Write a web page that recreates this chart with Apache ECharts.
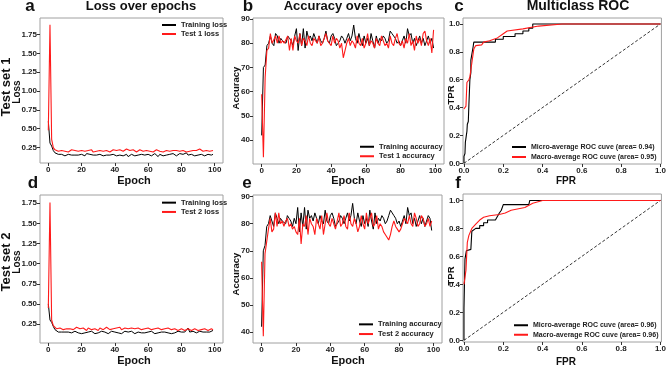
<!DOCTYPE html>
<html><head><meta charset="utf-8">
<script src="https://cdn.jsdelivr.net/npm/echarts@6/dist/echarts.min.js"></script>
<style>html,body{margin:0;padding:0;background:#fff}#c{width:669px;height:368px}</style>
</head><body><div id="c"></div>
<script>
const FONT = '"Liberation Sans", Arial, sans-serif';
const epochs = [...Array(100).keys()];
const epochTicks = [0,20,40,60,80,100];
const lossTicks = [0.25,0.5,0.75,1.0,1.25,1.5,1.75];
const accTicks = [40,50,60,70,80,90];
const rocTicks = [0,0.2,0.4,0.6,0.8,1.0];

const trainLoss1 = [
0.60,0.31,0.27,0.21,0.18,0.16,0.16,0.15,0.16,0.15,
0.14,0.15,0.16,0.14,0.15,0.16,0.15,0.17,0.15,0.14,
0.16,0.15,0.14,0.17,0.15,0.16,0.14,0.15,0.16,0.15,
0.14,0.16,0.15,0.14,0.16,0.15,0.17,0.15,0.14,0.16,
0.15,0.14,0.16,0.15,0.17,0.14,0.15,0.16,0.13,0.15,
0.16,0.15,0.14,0.16,0.15,0.14,0.16,0.17,0.15,0.14,
0.16,0.15,0.14,0.15,0.17,0.15,0.13,0.16,0.15,0.14,
0.16,0.15,0.14,0.16,0.15,0.17,0.15,0.14,0.16,0.17,
0.18,0.16,0.17,0.18,0.15,0.14,0.16,0.15,0.14,0.16,
0.15,0.14,0.16,0.15,0.14,0.15,0.16,0.14,0.15,0.16];
const testLoss1 = [
0.48,1.88,0.36,0.25,0.22,0.21,0.20,0.22,0.21,0.19,
0.20,0.21,0.19,0.20,0.22,0.20,0.21,0.23,0.20,0.19,
0.21,0.22,0.20,0.19,0.21,0.20,0.22,0.19,0.21,0.20,
0.22,0.21,0.19,0.20,0.22,0.21,0.20,0.19,0.21,0.22,
0.20,0.21,0.19,0.22,0.21,0.20,0.22,0.23,0.24,0.21,
0.20,0.22,0.21,0.19,0.20,0.22,0.21,0.20,0.19,0.21,
0.22,0.20,0.21,0.19,0.20,0.22,0.21,0.20,0.22,0.19,
0.20,0.21,0.19,0.20,0.22,0.21,0.20,0.21,0.19,0.20,
0.19,0.21,0.20,0.19,0.21,0.20,0.22,0.21,0.20,0.21,
0.22,0.23,0.21,0.20,0.22,0.21,0.19,0.20,0.18,0.21];
const trainLoss2 = [
0.50,0.30,0.27,0.22,0.18,0.16,0.15,0.16,0.15,0.14,
0.15,0.14,0.15,0.16,0.14,0.15,0.16,0.15,0.14,0.16,
0.13,0.15,0.14,0.16,0.15,0.14,0.16,0.15,0.13,0.15,
0.14,0.15,0.16,0.14,0.15,0.14,0.13,0.15,0.16,0.14,
0.15,0.16,0.14,0.15,0.13,0.15,0.16,0.14,0.15,0.14,
0.16,0.15,0.13,0.12,0.15,0.16,0.14,0.15,0.14,0.16,
0.15,0.14,0.16,0.15,0.13,0.15,0.14,0.16,0.15,0.14,
0.15,0.16,0.14,0.15,0.13,0.12,0.14,0.15,0.16,0.14,
0.15,0.16,0.15,0.17,0.20,0.15,0.14,0.16,0.15,0.14,
0.15,0.16,0.14,0.15,0.16,0.15,0.14,0.15,0.14,0.17];
const testLoss2 = [
0.45,1.76,0.30,0.23,0.21,0.19,0.18,0.20,0.19,0.18,
0.20,0.19,0.17,0.19,0.20,0.18,0.19,0.21,0.22,0.19,
0.18,0.20,0.19,0.17,0.20,0.19,0.18,0.20,0.19,0.18,
0.17,0.20,0.19,0.18,0.20,0.21,0.19,0.18,0.20,0.19,
0.18,0.20,0.19,0.21,0.18,0.19,0.20,0.21,0.19,0.18,
0.20,0.21,0.19,0.18,0.20,0.19,0.18,0.20,0.19,0.18,
0.20,0.19,0.18,0.20,0.19,0.18,0.20,0.19,0.18,0.17,
0.19,0.18,0.20,0.19,0.18,0.20,0.19,0.18,0.17,0.18,
0.19,0.18,0.17,0.18,0.19,0.18,0.17,0.18,0.19,0.18,
0.17,0.19,0.18,0.17,0.19,0.18,0.17,0.18,0.19,0.18];

const trainAcc1 = [
42,70,71,79,80,83,80,79,84,83,
80,82,81,81,80,83,82,81,79,83,
86,77,84,79,86,78,85,82,83,81,
84,82,80,83,81,80,82,85,81,80,
83,84,82,79,80,81,83,82,80,82,
84,81,83,87.5,82,80,84,81,79,83,
80,82,79,84,81,78,83,80,82,81,
83,82,80,81,85,84,83,82,80,81,
79,81,83,80,86,83,84,80,82,79,
81,83,80,82,79,81,83,80,82,78];
const testAcc1 = [
59,33,66,77,78,84,80,80,83,80,
83,80,81,80,80,83,77,82,77,83,
81,80,84,79,82,81,79,83,80,79,
82,81,80,83,79,80,82,84,81,80,
79,83,80,82,81,78,80,74,74,80,
82,79,81,80,78,83,80,79,82,78,
80,84,79,81,80,78,82,80,79,83,
81,79,80,78,83,80,79,82,84,80,
79,81,78,82,80,84,79,81,77,83,
80,82,79,84,85,81,79,82,76,85.5];
const trainAcc2 = [
42,70,72,79,80,83,83,79,84,82,
80,82,81,81,80,83,82,81,79,82,
80,86,77,84,79,86,78,85,82,83,
81,84,82,80,83,81,80,85,81,80,
83,84,82,79,80,81,83,82,80,82,
84,81,83,87.5,82,80,84,81,79,83,
80,82,79,85,81,78,84,80,82,81,
83,82,80,81,83,85,84,83,82,80,
81,79,81,83,80,86,83,84,80,82,
79,81,83,80,82,79,81,83,82,77.5];
const testAcc2 = [
66,38.5,69,69.5,78,82,77,78,84,79,
84,80,81,79,81,82,79,80,78,79,
77,76,82,72.5,80,79,83,76,82,80,
79,76,82,80,78,83,76,80,84,80,
79,82,80,78,81,84,79,80,83,79,
78,84,80,79,82,80,77,79,83,80,
78,84,80,82,84,79,80,83,78,80,
79,77,76,75,74,76,79,81,79,78,
77,78,80,82,81,80,83,80,79,84,
82,79,80,83,82,79,80,82,79,81];

const microRoc1 = [[0,0],[0,0.05],[0.005,0.07],[0.007,0.15],[0.012,0.2],[0.015,0.23],[0.017,0.28],[0.022,0.3],[0.025,0.42],[0.03,0.6],[0.035,0.65],[0.035,0.74],[0.045,0.74],[0.047,0.84],[0.05,0.87],[0.16,0.87],[0.16,0.89],[0.2,0.89],[0.2,0.91],[0.26,0.91],[0.26,0.93],[0.3,0.93],[0.3,0.95],[0.33,0.95],[0.33,0.97],[0.35,0.97],[0.35,1.0],[1,1]];
const macroRoc1 = [[0,0.39],[0.01,0.41],[0.015,0.58],[0.025,0.6],[0.03,0.62],[0.04,0.72],[0.05,0.82],[0.06,0.845],[0.09,0.85],[0.1,0.87],[0.13,0.88],[0.17,0.9],[0.2,0.93],[0.22,0.95],[0.3,0.965],[0.38,0.985],[0.5,1.0],[1,1]];
const microRoc2 = [[0,0],[0,0.23],[0.005,0.23],[0.005,0.58],[0.012,0.58],[0.012,0.64],[0.035,0.65],[0.04,0.78],[0.06,0.8],[0.08,0.8],[0.08,0.82],[0.1,0.82],[0.1,0.84],[0.12,0.84],[0.12,0.86],[0.16,0.86],[0.17,0.87],[0.18,0.91],[0.19,0.93],[0.2,0.97],[0.33,0.97],[0.335,1.0],[1,1]];
const macroRoc2 = [[0,0.4],[0.01,0.5],[0.017,0.7],[0.025,0.75],[0.04,0.8],[0.06,0.83],[0.08,0.86],[0.1,0.88],[0.13,0.89],[0.18,0.9],[0.21,0.91],[0.24,0.93],[0.31,0.95],[0.35,0.98],[0.4,1.0],[1,1]];
const chanceLine = [[0,0],[1,1]];

const names = {
  trainLoss:'Training loss', test1Loss:'Test 1 loss', test2Loss:'Test 2 loss',
  trainAcc:'Training accuracy', test1Acc:'Test 1 accuracy', test2Acc:'Test 2 accuracy',
  micro1:'Micro-average ROC cuve (area= 0.94)', macro1:'Macro-average ROC cuve (area= 0.95)',
  micro2:'Micro-average ROC cuve (area= 0.96)', macro2:'Macro-average ROC cuve (area= 0.96)'
};

const grids = [
  {left:40, top:18, width:183, height:145},
  {left:253, top:18, width:191, height:146},
  {left:463, top:18, width:199, height:146},
  {left:40, top:195, width:183, height:148},
  {left:253, top:195, width:189, height:148},
  {left:463, top:194, width:199, height:148}
].map(g => Object.assign(g, {show:true, borderColor:'#a0a0a0', borderWidth:1, backgroundColor:'#fff'}));

function axis(gi, min, max, ticks, fmt) {
  return {
    type:'value', gridIndex:gi, min:min, max:max,
    axisLine:{show:false, onZero:false}, splitLine:{show:false},
    axisTick:{show:true, customValues:ticks, length:3, lineStyle:{color:'#333', width:1}},
    axisLabel:{customValues:ticks, formatter:fmt, fontSize:8, fontWeight:'bold', color:'#222', margin:3, fontFamily:FONT}
  };
}
const fInt = v => String(Math.round(v));
const f2 = v => v.toFixed(2);
const f1 = v => v.toFixed(1);

const xAxes = [
  axis(0,-5,105,epochTicks,fInt), axis(1,-5,105,epochTicks,fInt), axis(2,-0.005,1.005,rocTicks,f1),
  axis(3,-5,105,epochTicks,fInt), axis(4,-5,105,epochTicks,fInt), axis(5,-0.005,1.005,rocTicks,f1)
];
const yAxes = [
  axis(0,0.045,1.97,lossTicks,f2), axis(1,30.2,90.4,accTicks,fInt), axis(2,-0.005,1.043,rocTicks,f1),
  axis(3,0.014,1.853,lossTicks,f2), axis(4,36.0,90.6,accTicks,fInt), axis(5,-0.012,1.046,rocTicks,f1)
];

function line(gi, name, data, color, width, extra) {
  return Object.assign({type:'line', name:name, xAxisIndex:gi, yAxisIndex:gi, data:data, showSymbol:false, symbol:'none',
    lineStyle:{color:color, width:width}, itemStyle:{color:color}, silent:true}, extra || {});
}
const ep = arr => epochs.map(i => [i, arr[i]]);
const RED = '#ff1a1a';

const series = [
  line(0, names.trainLoss, ep(trainLoss1), '#000', 1),
  line(0, names.test1Loss, ep(testLoss1), RED, 1.1),
  line(1, names.trainAcc, ep(trainAcc1), '#000', 1),
  line(1, names.test1Acc, ep(testAcc1), RED, 1.1),
  line(2, 'chance1', chanceLine, '#000', 0.8, {lineStyle:{color:'#000', width:0.8, type:[3,2]}}),
  line(2, names.micro1, microRoc1, '#000', 1.1),
  line(2, names.macro1, macroRoc1, RED, 1.1),
  line(3, names.trainLoss, ep(trainLoss2), '#000', 1),
  line(3, names.test2Loss, ep(testLoss2), RED, 1.1),
  line(4, names.trainAcc, ep(trainAcc2), '#000', 1),
  line(4, names.test2Acc, ep(testAcc2), RED, 1.1),
  line(5, 'chance2', chanceLine, '#000', 0.8, {lineStyle:{color:'#000', width:0.8, type:[3,2]}}),
  line(5, names.micro2, microRoc2, '#000', 1.1),
  line(5, names.macro2, macroRoc2, RED, 1.1)
];

function legend(left, top, data, size, lh) {
  return {orient:'vertical', left:left, top:top, padding:0, itemGap:0, itemWidth:14, itemHeight:2, icon:'rect',
    selectedMode:false, data:data,
    textStyle:{fontSize:size, fontWeight:'bold', color:'#222', fontFamily:FONT, lineHeight:lh}};
}
const legends = [
  legend(162, 20.5, [names.trainLoss, names.test1Loss], 7.5, 9),
  legend(360, 142, [names.trainAcc, names.test1Acc], 7.5, 9.5),
  legend(512, 142, [names.micro1, names.macro1], 7, 10),
  legend(162, 198, [names.trainLoss, names.test2Loss], 7.5, 9.3),
  legend(359, 319.5, [names.trainAcc, names.test2Acc], 7.5, 9.7),
  legend(514, 320.5, [names.micro2, names.macro2], 7, 9.5)
];

function txt(text, x, y, size, rot) {
  return {type:'text', x:x, y:y, rotation: rot ? Math.PI/2 : 0, silent:true,
    style:{text:text, fill:'#111', font:'bold ' + size + 'px ' + FONT, textAlign:'center', textVerticalAlign:'middle'}};
}
const graphics = [
  txt('Loss over epochs', 141, 6.5, 13), txt('Accuracy over epochs', 353, 6.5, 13), txt('Multiclass ROC', 578, 6.5, 14),
  txt('a', 30, 6, 17), txt('b', 248, 6.5, 17), txt('c', 459, 6, 17),
  txt('d', 33, 183, 17), txt('e', 247, 183, 17), txt('f', 458, 183, 17),
  txt('Epoch', 134, 181, 11), txt('Epoch', 348, 181, 11), txt('FPR', 566, 181.5, 10),
  txt('Epoch', 134, 361, 11), txt('Epoch', 348, 361, 11), txt('FPR', 566, 362, 10),
  txt('Test set 1', 6.5, 87, 13, true), txt('Test set 2', 6.5, 262, 13, true),
  txt('Loss', 17.5, 92, 10, true), txt('Loss', 17, 262, 10, true),
  txt('Accuracy', 236, 88, 9.5, true), txt('Accuracy', 236, 274, 9.5, true),
  txt('TPR', 451, 95, 9.5, true), txt('TPR', 451, 276, 9.5, true)
];

const chart = echarts.init(document.getElementById('c'), null, {renderer:'canvas'});
chart.setOption({
  animation:false, backgroundColor:'#fff',
  grid:grids, xAxis:xAxes, yAxis:yAxes, series:series, legend:legends, graphic:graphics
});
</script></body></html>
